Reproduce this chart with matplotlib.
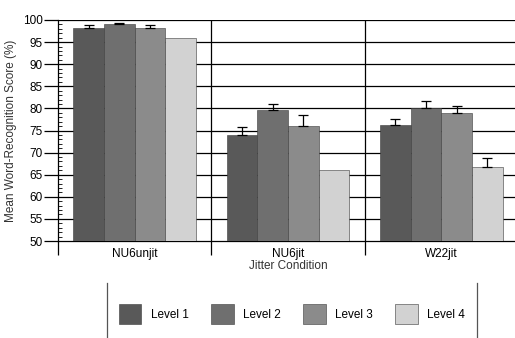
import matplotlib.pyplot as plt
import numpy as np
from matplotlib.lines import Line2D

plt.rcParams['font.family'] = ['Liberation Sans', 'DejaVu Sans']

conditions = ['NU6unjit', 'NU6jit', 'W22jit']
levels = ['Level 1', 'Level 2', 'Level 3', 'Level 4']
scores = {
    'Level 1': [98.2, 74.0, 76.2],
    'Level 2': [99.0, 79.6, 80.2],
    'Level 3': [98.1, 76.0, 78.9],
    'Level 4': [95.9, 66.1, 66.7],
}
errors = {
    'Level 1': [0.7, 1.7, 1.3],
    'Level 2': [0.4, 1.4, 1.5],
    'Level 3': [0.7, 2.6, 1.6],
    'Level 4': [0.0, 0.0, 2.0],
}
colors = ['#595959', '#6f6f6f', '#8b8b8b', '#d2d2d2']

fig = plt.figure(figsize=(5.15, 3.38), dpi=100)
ax = fig.add_axes([58 / 515, (338 - 241) / 338, 460 / 515, 221 / 338])

x = np.arange(len(conditions))
w = 0.2
for i, lv in enumerate(levels):
    pos = x + (i - 1.5) * w
    ax.bar(pos, scores[lv], width=w, color=colors[i], edgecolor='#3a3a3a',
           linewidth=0.4, zorder=3, label=lv)
    # only draw error bars where there is an error value
    keep = np.array(errors[lv]) > 0
    vals = np.array(scores[lv])[keep]
    err = np.array(errors[lv])[keep]
    ax.errorbar(pos[keep], vals, yerr=[np.zeros(len(err)), err], fmt='none',
                ecolor='black', elinewidth=0.9, capsize=3.5, capthick=0.9, zorder=4)

ax.set_ylim(50, 100)
ax.set_xlim(-0.5, 2.5)
for yv in range(55, 101, 5):
    ax.axhline(yv, color='black', linewidth=0.9, zorder=1)
for b in [0.5, 1.5]:
    ax.axvline(b, color='black', linewidth=0.9, zorder=1)

ax.set_yticks(range(50, 101, 5))
ax.set_yticks(range(50, 101, 1), minor=True)
ax.tick_params(axis='y', which='major', direction='out', length=10, width=0.9, labelsize=8.5, pad=1)
ax.tick_params(axis='y', which='minor', direction='in', length=3, width=0.6)
ax.set_xticks([-0.5, 0.5, 1.5])
ax.set_xticklabels([])
ax.set_xticks(x, minor=True)
ax.set_xticklabels(conditions, minor=True)
ax.tick_params(axis='x', which='major', direction='out', length=10, width=0.9)
ax.tick_params(axis='x', which='minor', length=0, labelsize=8.5, pad=5)

for s in ['top', 'right']:
    ax.spines[s].set_visible(False)
ax.spines['left'].set_linewidth(0.9)
ax.spines['bottom'].set_linewidth(0.9)

ax.set_ylabel('Mean Word-Recognition Score (%)', fontsize=8.5, labelpad=4, color='#333333')
ax.set_xlabel('Jitter Condition', fontsize=8.5, labelpad=0, color='#333333')

handles, labs = ax.get_legend_handles_labels()
fig.legend(handles, labs, loc='center', bbox_to_anchor=(292 / 515, 1 - 314 / 338),
           ncol=4, frameon=False, fontsize=8.5, handlelength=1.9, handleheight=2.1,
           handletextpad=0.8, columnspacing=1.9)
fig.add_artist(Line2D([107 / 515, 107 / 515], [0, 1 - 283 / 338], color='#555555', linewidth=0.9))
fig.add_artist(Line2D([477 / 515, 477 / 515], [0, 1 - 283 / 338], color='#555555', linewidth=0.9))

fig.savefig('out.png', dpi=100)
